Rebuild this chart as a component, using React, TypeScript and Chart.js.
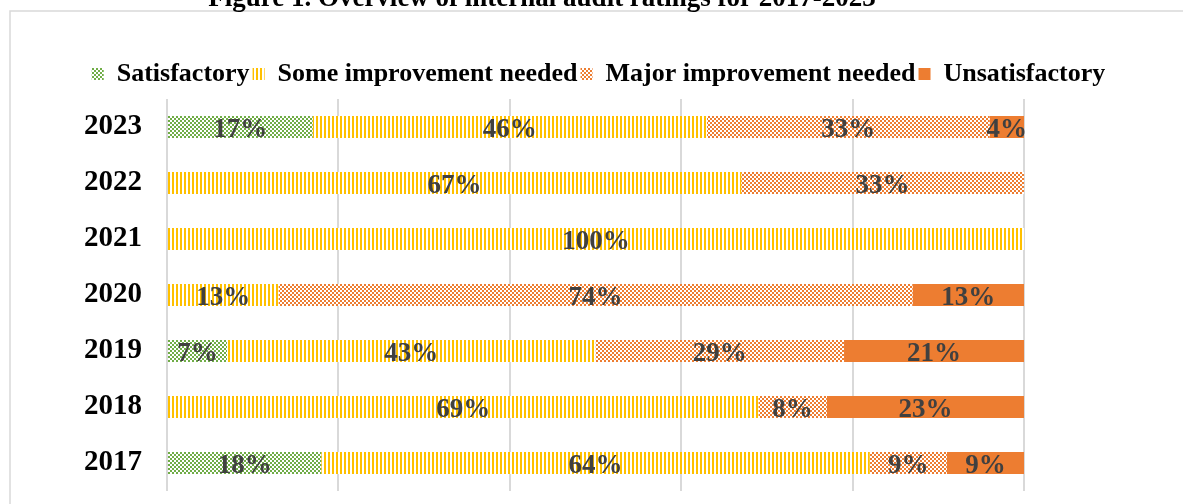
import React, { useEffect, useRef } from "react";
import { Chart, registerables } from "chart.js";

Chart.register(...registerables);

const years = ["2023", "2022", "2021", "2020", "2019", "2018", "2017"];
const satisfactory = [17, 0, 0, 0, 7, 0, 18];
const someImprovement = [46, 67, 100, 13, 43, 69, 64];
const majorImprovement = [33, 33, 0, 74, 29, 8, 9];
const unsatisfactory = [4, 0, 0, 13, 21, 23, 9];
const seriesNames = [
  "Satisfactory",
  "Some improvement needed",
  "Major improvement needed",
  "Unsatisfactory",
];
const titleText = "Figure 1. Overview of internal audit ratings for 2017-2023";

const SERIF = '"Liberation Serif", "Times New Roman", serif';
const GREEN = "#70AD47";
const YELLOW = "#FFC000";
const ORANGE = "#ED7D31";

function makePattern(kind: string, color: string): CanvasPattern | string {
  const c = document.createElement("canvas");
  const size = 4;
  c.width = size;
  c.height = size;
  const ctx = c.getContext("2d");
  if (!ctx) return color;
  ctx.fillStyle = "#ffffff";
  ctx.fillRect(0, 0, size, size);
  ctx.fillStyle = color;
  if (kind === "checker") {
    ctx.fillRect(0, 0, 2, 2);
    ctx.fillRect(2, 2, 2, 2);
  } else if (kind === "vstripe") {
    ctx.fillRect(0, 0, 2, size);
  } else {
    ctx.fillRect(0, 0, size, size);
  }
  const p = ctx.createPattern(c, "repeat");
  return p || color;
}

const framePlugin = {
  id: "frame",
  beforeDraw(chart: any) {
    const ctx = chart.ctx;
    ctx.save();
    ctx.strokeStyle = "#d9d9d9";
    ctx.lineWidth = 1.5;
    ctx.strokeRect(10, 11, 1400, 700);
    ctx.restore();
  },
  afterDraw(chart: any) {
    const ctx = chart.ctx;
    ctx.save();
    ctx.fillStyle = "#000000";
    ctx.font = `bold 27px ${SERIF}`;
    ctx.textAlign = "center";
    ctx.textBaseline = "alphabetic";
    ctx.fillText(titleText, 542, 6);
    ctx.restore();
  },
};

const valueLabelPlugin = {
  id: "valueLabels",
  afterDatasetsDraw(chart: any) {
    const ctx = chart.ctx;
    ctx.save();
    ctx.font = `bold 27px ${SERIF}`;
    ctx.fillStyle = "#404040";
    ctx.textAlign = "center";
    ctx.textBaseline = "alphabetic";
    chart.data.datasets.forEach((ds: any, di: number) => {
      const meta = chart.getDatasetMeta(di);
      meta.data.forEach((el: any, i: number) => {
        const v = ds.data[i];
        if (!v) return;
        const x = (el.x + el.base) / 2;
        ctx.fillText(`${v}%`, x, el.y + 10);
      });
    });
    ctx.restore();
  },
};

export default function App() {
  const ref = useRef<HTMLCanvasElement | null>(null);

  useEffect(() => {
    if (!ref.current) return;
    const greenP = makePattern("checker", GREEN);
    const yellowP = makePattern("vstripe", YELLOW);
    const orangeP = makePattern("checker", ORANGE);

    const values = [satisfactory, someImprovement, majorImprovement, unsatisfactory];
    const fills = [greenP, yellowP, orangeP, ORANGE];

    const chart = new Chart(ref.current, {
      type: "bar",
      data: {
        labels: years,
        datasets: values.map((d, i) => ({
          label: seriesNames[i],
          data: d,
          backgroundColor: fills[i] as any,
          borderWidth: 0,
          barPercentage: 1,
          categoryPercentage: 22 / 56,
        })),
      },
      options: {
        indexAxis: "y",
        responsive: false,
        maintainAspectRatio: false,
        animation: false,
        layout: { padding: { top: 58, left: 30, right: 16, bottom: 13 } },
        plugins: {
          legend: {
            position: "top",
            labels: {
              boxWidth: 12,
              boxHeight: 12,
              padding: 3,
              color: "#000000",
              font: { family: SERIF, size: 26, weight: "bold" },
            },
          },
          title: { display: false },
          tooltip: { enabled: false },
        },
        scales: {
          x: {
            type: "linear",
            position: "top",
            stacked: true,
            min: 0,
            max: 100,
            ticks: { display: false, stepSize: 20 },
            grid: { color: "#d9d9d9", lineWidth: 2, drawTicks: false },
            border: { display: false },
            afterFit: (s: any) => {
              s.height = 2;
              s.paddingLeft = 0;
              s.paddingRight = 0;
            },
          },
          y: {
            type: "category",
            stacked: true,
            grid: { display: false, drawTicks: false },
            border: { display: false },
            ticks: {
              color: "#000000",
              padding: 25,
              font: { family: SERIF, size: 29, weight: "bold" },
            },
            afterFit: (s: any) => {
              s.width = 137;
              s.paddingTop = 0;
              s.paddingBottom = 0;
            },
          },
          y2: {
            type: "category",
            position: "right",
            grid: { display: false, drawTicks: false },
            border: { display: false },
            ticks: { display: false },
            afterFit: (s: any) => {
              s.width = 143;
              s.paddingTop = 0;
              s.paddingBottom = 0;
            },
          },
        } as any,
      },
      plugins: [framePlugin, valueLabelPlugin],
    });
    return () => chart.destroy();
  }, []);

  return (
    <div style={{ position: "absolute", left: 0, top: 0, width: 1183, height: 504, background: "#ffffff" }}>
      <canvas ref={ref} width={1183} height={504} style={{ display: "block" }} />
    </div>
  );
}
